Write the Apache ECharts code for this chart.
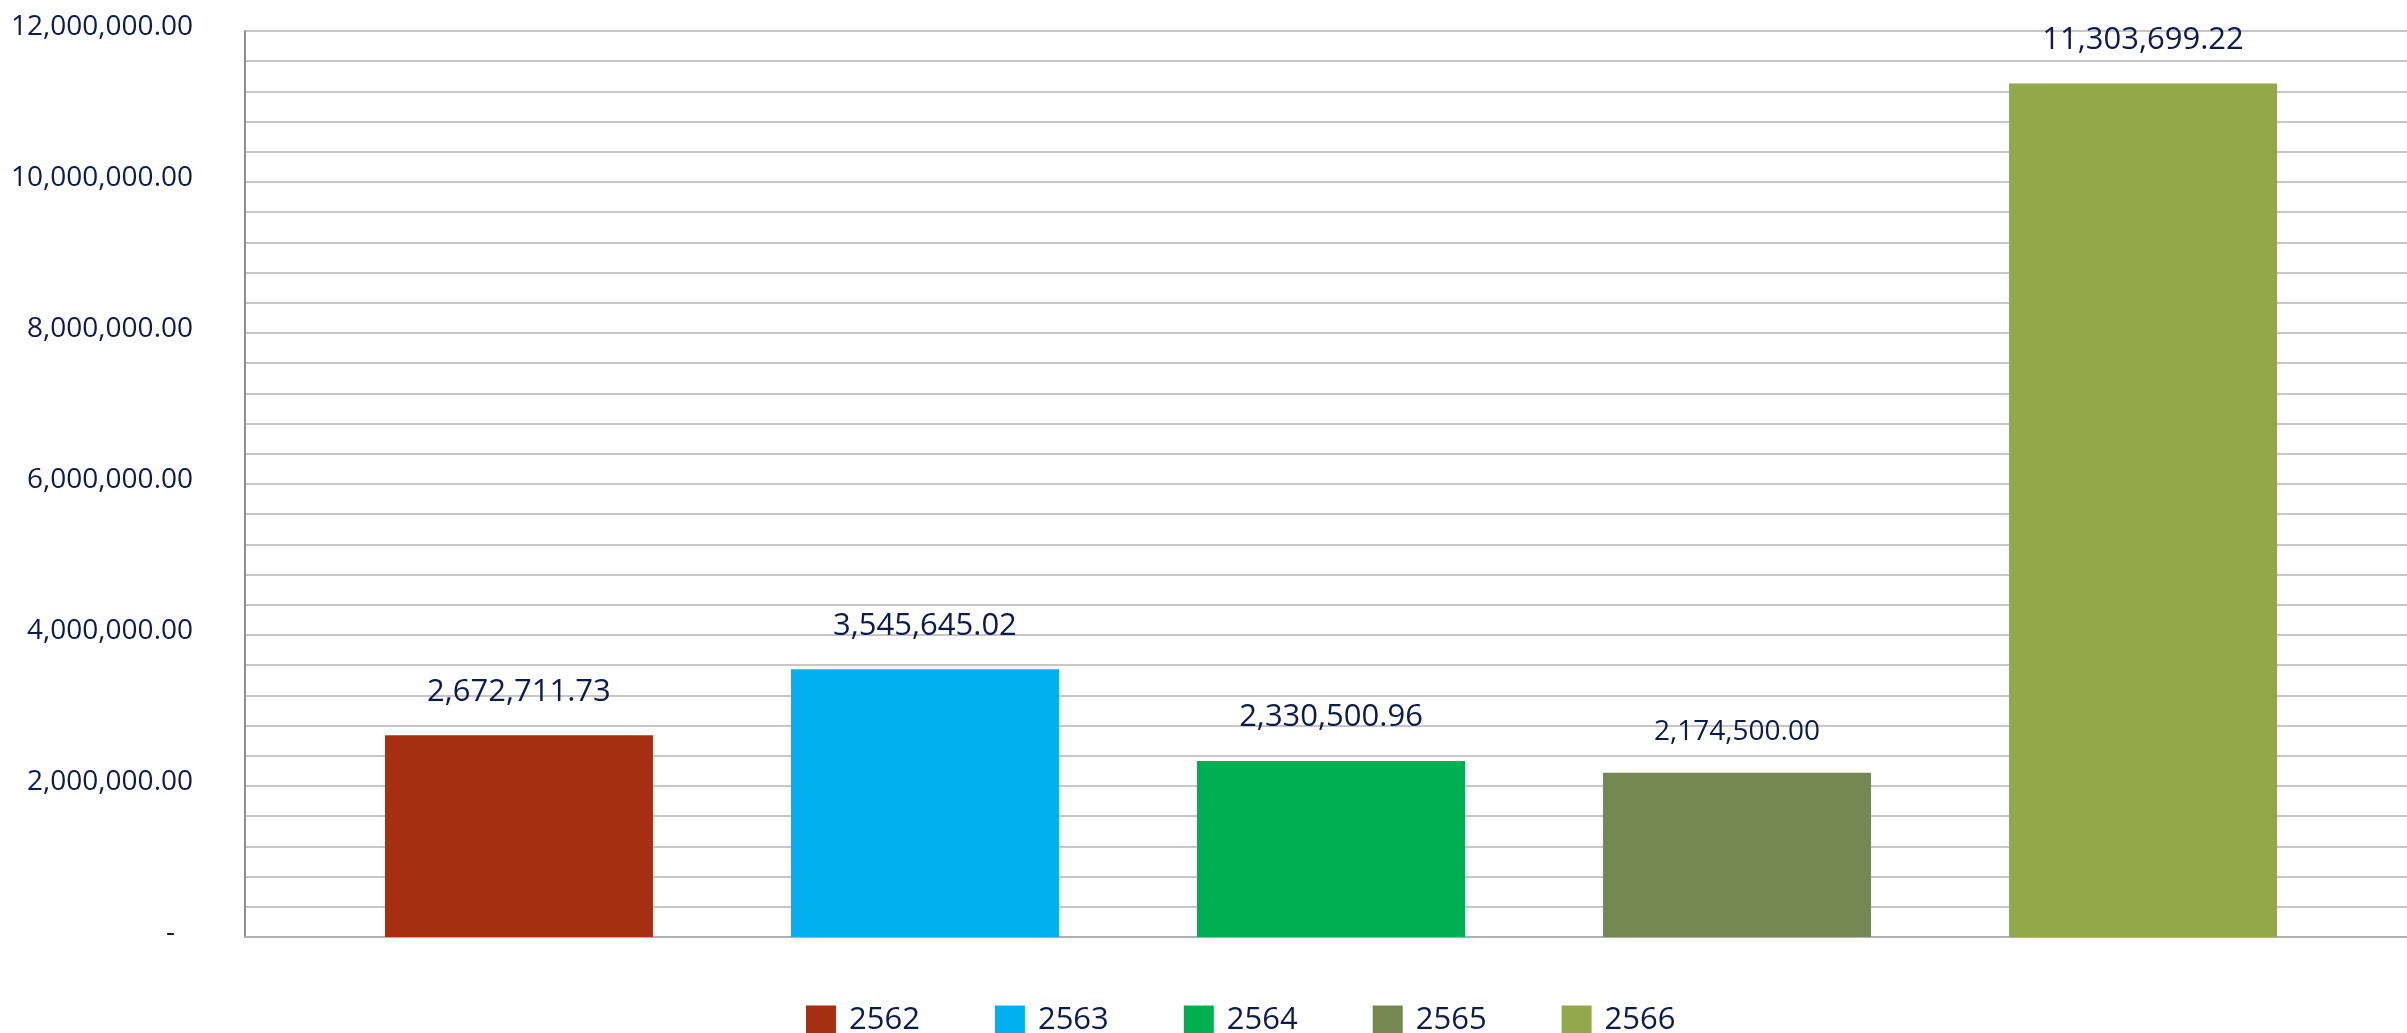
<!DOCTYPE html>
<html>
<head>
<meta charset="utf-8">
<script src="https://cdn.jsdelivr.net/npm/echarts@6/dist/echarts.min.js"></script>
<style>
html,body{margin:0;padding:0;background:#fff;}
#c{width:2407px;height:1033px;}
</style>
</head>
<body>
<div id="c"></div>
<script>
const years = ['2562', '2563', '2564', '2565', '2566'];
const values = [2672711.73, 3545645.02, 2330500.96, 2174500.00, 11303699.22];
const colors = ['#A52F10', '#00B0F0', '#00B050', '#748852', '#93A84B'];
const labelSizes = [31, 31, 31, 28, 31];
const yMin = 0, yMax = 12000000, yStep = 2000000;

const TEXT = '#0D1B4C';
const FONT = '"Open Sans", "Noto Sans", sans-serif';
const fmt = v => v.toLocaleString('en-US', {minimumFractionDigits: 2, maximumFractionDigits: 2});

const chart = echarts.init(document.getElementById('c'), null, {renderer: 'canvas'});

const series = years.map((y, i) => ({
  name: y,
  type: 'bar',
  data: [values[i]],
  barWidth: 268,
  barGap: '51.5%',
  itemStyle: {color: colors[i]},
  label: {
    show: true,
    position: 'top',
    distance: labelSizes[i] === 31 ? 28 : 27,
    color: TEXT,
    fontFamily: FONT,
    fontSize: labelSizes[i],
    formatter: p => fmt(p.value)
  }
}));

chart.setOption({
  animation: false,
  backgroundColor: '#ffffff',
  color: colors,
  grid: {left: 245, top: 31, width: 2172, height: 906, containLabel: false, outerBoundsMode: 'none'},
  legend: {
    left: 801,
    top: 1000,
    itemWidth: 30,
    itemHeight: 30,
    itemGap: 75,
    icon: 'rect',
    data: years,
    textStyle: {color: TEXT, fontFamily: FONT, fontSize: 31, padding: [0, 0, 12, 8]}
  },
  xAxis: {
    type: 'category',
    data: [''],
    axisLine: {show: true, lineStyle: {color: '#b0b0b0', width: 2}},
    axisTick: {show: false},
    axisLabel: {show: false},
    splitLine: {show: false}
  },
  yAxis: {
    type: 'value',
    min: yMin,
    max: yMax,
    interval: yStep,
    axisLine: {show: true, lineStyle: {color: '#8f8f8f', width: 2}},
    axisTick: {show: false},
    minorTick: {show: false, splitNumber: 5},
    splitLine: {show: true, lineStyle: {color: '#b4b4b4', width: 1.5}},
    minorSplitLine: {show: true, lineStyle: {color: '#b4b4b4', width: 1.5}},
    axisLabel: {
      margin: 52,
      color: TEXT,
      fontFamily: FONT,
      fontSize: 28,
      padding: [0, 0, 8, 0],
      formatter: v => v === 0 ? '{z|-}' : fmt(v),
      rich: {
        z: {color: TEXT, fontFamily: FONT, fontSize: 28, padding: [0, 18, 0, 0]}
      }
    }
  },
  series: series
});
</script>
</body>
</html>
